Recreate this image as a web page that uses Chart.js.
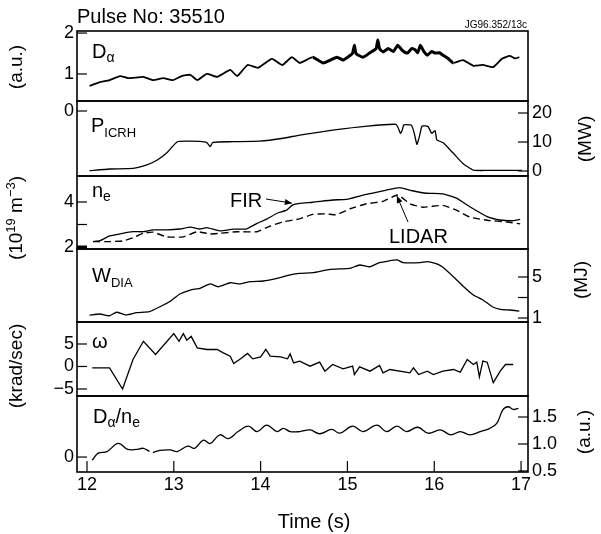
<!DOCTYPE html>
<html><head><meta charset="utf-8">
<script src="https://cdn.jsdelivr.net/npm/chart.js@4"></script>
<style>
html,body{margin:0;padding:0;background:#fff;}
#wrap{position:relative;width:601px;height:534px;background:#fff;}
canvas{position:absolute;left:0;top:0;}
</style></head><body><div id="wrap">
<canvas id="c1" width="601" height="534"></canvas>
<canvas id="c2" width="601" height="534"></canvas>
<canvas id="c3" width="601" height="534"></canvas>
<canvas id="c4" width="601" height="534"></canvas>
<canvas id="c5" width="601" height="534"></canvas>
<canvas id="c6" width="601" height="534"></canvas>
</div>
<script>
// ---------------- DATA ----------------
const timeTicks = [12, 13, 14, 15, 16, 17];

const dAlphaT = [12.03,12.15,12.26,12.38,12.47,12.56,12.65,12.76,12.88,12.99,13.09,13.19,13.27,13.38,13.50,13.65,13.73,13.85,13.97,14.13,14.25,14.36,14.45,14.60,14.72,14.88,14.95,15.03,15.06,15.08,15.10,15.18,15.26,15.33,15.35,15.37,15.41,15.47,15.53,15.58,15.63,15.69,15.74,15.78,15.81,15.84,15.88,15.92,15.97,16.01,16.06,16.10,16.16,16.22,16.33,16.45,16.56,16.68,16.78,16.87,16.93,16.98];
const dAlphaV = [0.71,0.80,0.85,0.95,0.90,0.91,0.93,0.85,0.90,0.85,0.95,0.98,0.85,1.00,0.93,1.10,0.95,1.22,1.15,1.37,1.22,1.41,1.27,1.41,1.27,1.41,1.34,1.45,1.51,1.70,1.50,1.41,1.52,1.62,1.83,1.62,1.54,1.62,1.55,1.70,1.58,1.51,1.62,1.59,1.52,1.70,1.55,1.46,1.55,1.51,1.52,1.46,1.38,1.27,1.34,1.20,1.22,1.17,1.37,1.44,1.38,1.41];
const dAlphaTicks = [1, 2];

const pIcrhT = [12.03,12.26,12.53,12.69,12.81,12.92,13.04,13.15,13.30,13.38,13.42,13.45,13.68,13.99,14.26,14.45,14.83,15.23,15.56,15.59,15.61,15.63,15.65,15.72,15.74,15.77,15.80,15.83,15.86,15.93,15.97,16.01,16.03,16.10,16.22,16.33,16.45,16.61,17.01];
const pIcrhV = [0.1,0.7,0.9,2.1,3.8,6.3,10.1,10.3,10.2,9.8,8.4,9.9,10.1,10.3,11.3,12.4,14.1,15.5,16.1,14.5,13.0,14.0,15.9,15.9,15.7,13.0,9.2,12.0,15.5,15.3,13.0,13.9,10.7,9.8,6.1,2.6,0.3,0.2,0.2];
const pIcrhTicks = [0, 10, 20];
const pIcrhLeftTicks = [0];

const firT = [12.07,12.15,12.26,12.41,12.53,12.65,12.76,12.92,13.07,13.19,13.30,13.38,13.53,13.68,13.84,13.96,14.07,14.19,14.30,14.37,14.45,14.60,14.83,14.99,15.18,15.29,15.45,15.60,15.75,15.91,16.10,16.26,16.41,16.61,16.76,16.91,16.99];
const firV = [2.24,2.28,2.49,2.61,2.68,2.68,2.76,2.76,2.80,2.88,2.80,2.86,2.72,2.79,2.81,3.05,3.24,3.50,3.64,3.87,3.94,3.99,4.09,4.12,4.31,4.39,4.53,4.64,4.50,4.39,4.36,4.16,3.79,3.35,3.20,3.17,3.23];
const lidarT = [12.07,12.26,12.41,12.53,12.65,12.76,12.92,13.11,13.27,13.42,13.53,13.73,13.96,14.11,14.26,14.45,14.60,14.76,14.87,15.03,15.22,15.41,15.58,15.72,15.87,16.10,16.26,16.41,16.61,16.84,16.99];
const lidarV = [2.24,2.24,2.27,2.41,2.61,2.66,2.45,2.45,2.68,2.58,2.61,2.68,2.68,2.93,3.12,3.25,3.45,3.47,3.43,3.70,3.92,4.03,4.31,3.92,3.77,3.85,3.63,3.33,3.19,3.11,3.03];
const neTicks = [2, 3, 4];

const wDiaT = [12.03,12.15,12.26,12.34,12.45,12.57,12.72,12.84,12.95,13.07,13.19,13.30,13.42,13.51,13.65,13.76,13.88,14.03,14.19,14.34,14.45,14.60,14.80,15.03,15.14,15.26,15.37,15.57,15.64,15.84,15.92,16.03,16.10,16.22,16.33,16.45,16.56,16.67,16.76,16.87,16.98];
const wDiaV = [1.29,1.39,1.22,1.56,1.29,1.52,1.62,2.10,2.59,3.34,3.73,3.90,4.32,4.05,4.44,4.32,4.54,4.61,4.87,5.20,5.36,5.42,5.75,5.85,6.17,6.00,6.40,6.66,6.40,6.40,6.50,6.27,5.95,5.03,4.12,3.24,2.76,2.10,1.85,1.78,1.68];
const wDiaTicks = [1, 3, 5];

const omegaT = [12.06,12.26,12.41,12.53,12.65,12.79,13.00,13.06,13.11,13.15,13.20,13.27,13.38,13.50,13.57,13.65,13.69,13.77,13.85,13.91,14.00,14.06,14.11,14.23,14.31,14.34,14.38,14.45,14.57,14.68,14.74,14.83,14.95,15.06,15.08,15.14,15.26,15.37,15.41,15.49,15.72,15.76,15.82,15.92,15.99,16.10,16.22,16.30,16.38,16.45,16.49,16.52,16.56,16.61,16.68,16.76,16.82,16.91];
const omegaV = [-0.3,-0.3,-5.0,1.56,5.6,2.67,7.3,5.6,7.3,5.85,6.7,4.15,3.78,3.78,3.04,2.3,0.67,1.7,2.9,1.7,2.15,3.78,2.3,2.15,1.7,2.8,0.8,1.2,0.07,0.96,-1.04,0.44,-0.52,0.07,-1.78,-0.07,-1.04,0.22,-1.4,-0.67,-1.4,-0.3,-1.78,-1.04,-1.78,-1.04,-0.67,-1.26,1.56,0.44,0.96,-2.3,1.2,0.96,-3.6,-1.04,0.44,0.44];
const omegaTicks = [-5, 0, 5];

const ratioT = [12.06,12.13,12.23,12.36,12.47,12.57,12.65,12.72,12.74,12.76,12.84,12.96,13.04,13.16,13.24,13.34,13.42,13.53,13.63,13.74,13.86,13.96,14.07,14.19,14.26,14.34,14.45,14.57,14.68,14.82,14.91,15.06,15.18,15.34,15.45,15.57,15.68,15.81,15.93,16.07,16.19,16.30,16.41,16.53,16.64,16.72,16.79,16.85,16.91,16.97];
const ratioV = [0.70,0.83,0.86,1.01,0.90,0.90,0.92,0.86,null,0.84,0.88,0.89,0.86,0.96,0.92,1.07,1.01,1.17,1.10,1.23,1.33,1.23,1.35,1.23,1.29,1.23,1.23,1.26,1.19,1.27,1.20,1.33,1.23,1.35,1.23,1.33,1.23,1.31,1.20,1.26,1.17,1.23,1.17,1.23,1.29,1.38,1.63,1.69,1.64,1.66];
const ratioTicks = [0.5, 1.0, 1.5];
const ratioLeftTicks = [0];

// ---------------- RENDERING ----------------
const FONT = "'Liberation Sans', Arial, Helvetica, sans-serif";
Chart.defaults.font.family = FONT;
Chart.defaults.color = '#000';

function pts(t, v) { return t.map((x, i) => ({x: x, y: v[i]})); }

function rich(ctx, parts, x, y, align) {
  let w = 0;
  parts.forEach(p => { ctx.font = p[1] + 'px ' + FONT; w += ctx.measureText(p[0]).width; });
  let cx = align === 'center' ? x - w / 2 : (align === 'right' ? x - w : x);
  parts.forEach(p => {
    ctx.font = p[1] + 'px ' + FONT;
    ctx.fillText(p[0], cx, y + (p[2] || 0));
    cx += ctx.measureText(p[0]).width;
  });
}
function vlabel(ctx, parts, cx, cy) {
  ctx.save();
  ctx.translate(cx, cy);
  ctx.rotate(-Math.PI / 2);
  ctx.textBaseline = 'middle';
  rich(ctx, parts, 0, 0, 'center');
  ctx.restore();
}
function arrow(ctx, x0, y0, x1, y1) {
  ctx.save();
  ctx.strokeStyle = '#000'; ctx.fillStyle = '#000'; ctx.lineWidth = 1;
  ctx.beginPath(); ctx.moveTo(x0, y0); ctx.lineTo(x1, y1); ctx.stroke();
  const a = Math.atan2(y1 - y0, x1 - x0), L = 7, W = 3;
  ctx.beginPath();
  ctx.moveTo(x1, y1);
  ctx.lineTo(x1 - L * Math.cos(a) + W * Math.sin(a), y1 - L * Math.sin(a) - W * Math.cos(a));
  ctx.lineTo(x1 - L * Math.cos(a) - W * Math.sin(a), y1 - L * Math.sin(a) + W * Math.cos(a));
  ctx.closePath(); ctx.fill();
  ctx.restore();
}

const X_MIN = 11.885, X_MAX = 17.08;
const H = 534;

function yAxis(pos, min, max, ticks, fmt) {
  return {
    position: pos, min: min, max: max,
    afterFit: s => { s.width = pos === 'left' ? 77 : 73; s.paddingTop = 0; s.paddingBottom = 0; },
    afterBuildTicks: s => { if (ticks.length) s.ticks = ticks.map(v => ({value: v})); },
    ticks: {
      display: ticks.length > 0, autoSkip: false, padding: pos === 'left' ? 3 : 4,
      font: {size: 18}, color: '#000',
      callback: v => fmt ? fmt(v) : String(v)
    },
    grid: {display: false, drawTicks: false},
    border: {display: false}
  };
}

function panel(id, top, bottom, datasets, yL, yR, isBottom, marks, draw) {
  const xH = 30;
  const framePlugin = {
    id: 'frame' + id,
    afterDraw(chart) {
      const ctx = chart.ctx, a = chart.chartArea;
      ctx.save();
      ctx.strokeStyle = '#000';
      ctx.lineWidth = 1.6;
      ctx.strokeRect(a.left, a.top, a.right - a.left, a.bottom - a.top);
      marks.forEach(m => {
        const sc = chart.scales[m.axis];
        m.values.forEach(v => {
          ctx.lineWidth = (m.thick && m.thick.includes(v)) ? 3 : 1.2;
          ctx.beginPath();
          if (m.axis === 'x') {
            const px = sc.getPixelForValue(v);
            ctx.moveTo(px, a.bottom); ctx.lineTo(px, a.bottom - 11);
          } else {
            const py = sc.getPixelForValue(v);
            if (sc.position === 'left') { ctx.moveTo(a.left, py); ctx.lineTo(a.left + 10, py); }
            else { ctx.moveTo(a.right, py); ctx.lineTo(a.right - 10, py); }
          }
          ctx.stroke();
        });
      });
      ctx.fillStyle = '#000';
      ctx.textAlign = 'left';
      ctx.textBaseline = 'alphabetic';
      if (draw) draw(chart, ctx);
      ctx.restore();
    }
  };
  return new Chart(document.getElementById(id), {
    type: 'line',
    data: {datasets: datasets},
    options: {
      responsive: false, animation: false, events: [],
      layout: {padding: {top: top, bottom: H - bottom - (isBottom ? xH : 0), left: 0, right: 0}},
      plugins: {legend: {display: false}, tooltip: {enabled: false}},
      elements: {point: {radius: 0}},
      scales: {
        x: {
          type: 'linear', min: X_MIN, max: X_MAX, display: isBottom,
          afterFit: s => { if (isBottom) { s.height = xH; s.paddingLeft = 0; s.paddingRight = 0; } },
          afterBuildTicks: s => { s.ticks = timeTicks.map(v => ({value: v})); },
          ticks: {autoSkip: false, maxRotation: 0, padding: 2, font: {size: 18}, color: '#000'},
          grid: {display: false, drawTicks: false},
          border: {display: false}
        },
        yL: yL, yR: yR
      }
    },
    plugins: [framePlugin]
  });
}

const lineBase = {borderColor: '#000', fill: false, pointRadius: 0, tension: 0.15};

// Panel 1: D alpha
panel('c1', 31, 101,
  [Object.assign({}, lineBase, {data: pts(dAlphaT, dAlphaV), yAxisID: 'yL', borderWidth: 1.8,
    segment: {borderWidth: c => (c.p0.parsed.x >= 14.55 && c.p1.parsed.x <= 16.25) ? 3.0 : 1.8}})],
  yAxis('left', 0.34, 2.05, dAlphaTicks), yAxis('right', 0, 1, []), false,
  [{axis: 'yL', values: dAlphaTicks}],
  (chart, ctx) => {
    ctx.font = '20px ' + FONT;
    ctx.fillText('Pulse No: 35510', 77, 23);
    ctx.font = '10px ' + FONT;
    ctx.textAlign = 'right';
    ctx.fillText('JG96.352/13c', 527, 28);
    ctx.textAlign = 'left';
    rich(ctx, [['D', 20], ['α', 14, 4]], 92, 58, 'left');
    vlabel(ctx, [['(a.u.)', 19]], 17, 67);
  });

// Panel 2: P ICRH
panel('c2', 101, 176,
  [Object.assign({}, lineBase, {data: pts(pIcrhT, pIcrhV), yAxisID: 'yR', borderWidth: 1.3})],
  yAxis('left', -6.5, 1, pIcrhLeftTicks), yAxis('right', -1.72, 24.14, pIcrhTicks), false,
  [{axis: 'yL', values: pIcrhLeftTicks}, {axis: 'yR', values: pIcrhTicks}],
  (chart, ctx) => {
    rich(ctx, [['P', 20], ['ICRH', 13, 5]], 91, 132, 'left');
    vlabel(ctx, [['(MW)', 19]], 586, 139);
  });

// Panel 3: n_e
panel('c3', 176, 249,
  [Object.assign({}, lineBase, {data: pts(firT, firV), yAxisID: 'yL', borderWidth: 1.3}),
   Object.assign({}, lineBase, {data: pts(lidarT, lidarV), yAxisID: 'yL', borderWidth: 1.4, borderDash: [7, 4]})],
  yAxis('left', 1.911, 5.156, neTicks, v => (v === 3 ? '' : String(v))), yAxis('right', 0, 1, []), false,
  [{axis: 'yL', values: neTicks, thick: [2]}],
  (chart, ctx) => {
    const y = chart.scales.yL, x = chart.scales.x;
    rich(ctx, [['n', 20], ['e', 14, 4]], 92, 197, 'left');
    ctx.font = '20px ' + FONT;
    ctx.fillText('FIR', 230, 207);
    arrow(ctx, 266, 199, x.getPixelForValue(14.36), y.getPixelForValue(3.95));
    ctx.fillText('LIDAR', 389, 243);
    arrow(ctx, 408, 222, x.getPixelForValue(15.57), y.getPixelForValue(4.27));
    vlabel(ctx, [['(10', 19], ['19', 13, -6], [' m', 19], ['−3', 13, -6], [')', 19]], 17, 218);
  });

// Panel 4: W_DIA
panel('c4', 249, 322,
  [Object.assign({}, lineBase, {data: pts(wDiaT, wDiaV), yAxisID: 'yR', borderWidth: 1.3})],
  yAxis('left', 0, 1, []), yAxis('right', 0.61, 7.73, wDiaTicks, v => (v === 3 ? '' : String(v))), false,
  [{axis: 'yR', values: wDiaTicks}],
  (chart, ctx) => {
    rich(ctx, [['W', 20], ['DIA', 13, 5]], 92, 282, 'left');
    vlabel(ctx, [['(MJ)', 19]], 582, 280);
  });

// Panel 5: omega
panel('c5', 322, 396,
  [Object.assign({}, lineBase, {data: pts(omegaT, omegaV), yAxisID: 'yL', borderWidth: 1.3, tension: 0})],
  yAxis('left', -6.56, 9.89, omegaTicks, v => (v < 0 ? '−' + Math.abs(v) : String(v))), yAxis('right', 0, 1, []), false,
  [{axis: 'yL', values: omegaTicks}],
  (chart, ctx) => {
    ctx.font = '20px ' + FONT;
    ctx.fillText('ω', 92, 348);
    vlabel(ctx, [['(krad/sec)', 19]], 17, 366);
  });

// Panel 6: D alpha / n_e
panel('c6', 396, 472,
  [Object.assign({}, lineBase, {data: pts(ratioT, ratioV), yAxisID: 'yR', borderWidth: 1.3, tension: 0.4})],
  yAxis('left', -0.245, 1, ratioLeftTicks), yAxis('right', 0.481, 1.889, ratioTicks, v => v.toFixed(1)), true,
  [{axis: 'yL', values: ratioLeftTicks}, {axis: 'yR', values: ratioTicks}, {axis: 'x', values: timeTicks}],
  (chart, ctx) => {
    rich(ctx, [['D', 20], ['α', 14, 4], ['/', 20], ['n', 20], ['e', 14, 4]], 93, 423, 'left');
    vlabel(ctx, [['(a.u.)', 19]], 585, 432);
    ctx.font = '20px ' + FONT;
    ctx.textAlign = 'center';
    ctx.fillText('Time (s)', 314, 528);
  });
</script>
</body></html>
